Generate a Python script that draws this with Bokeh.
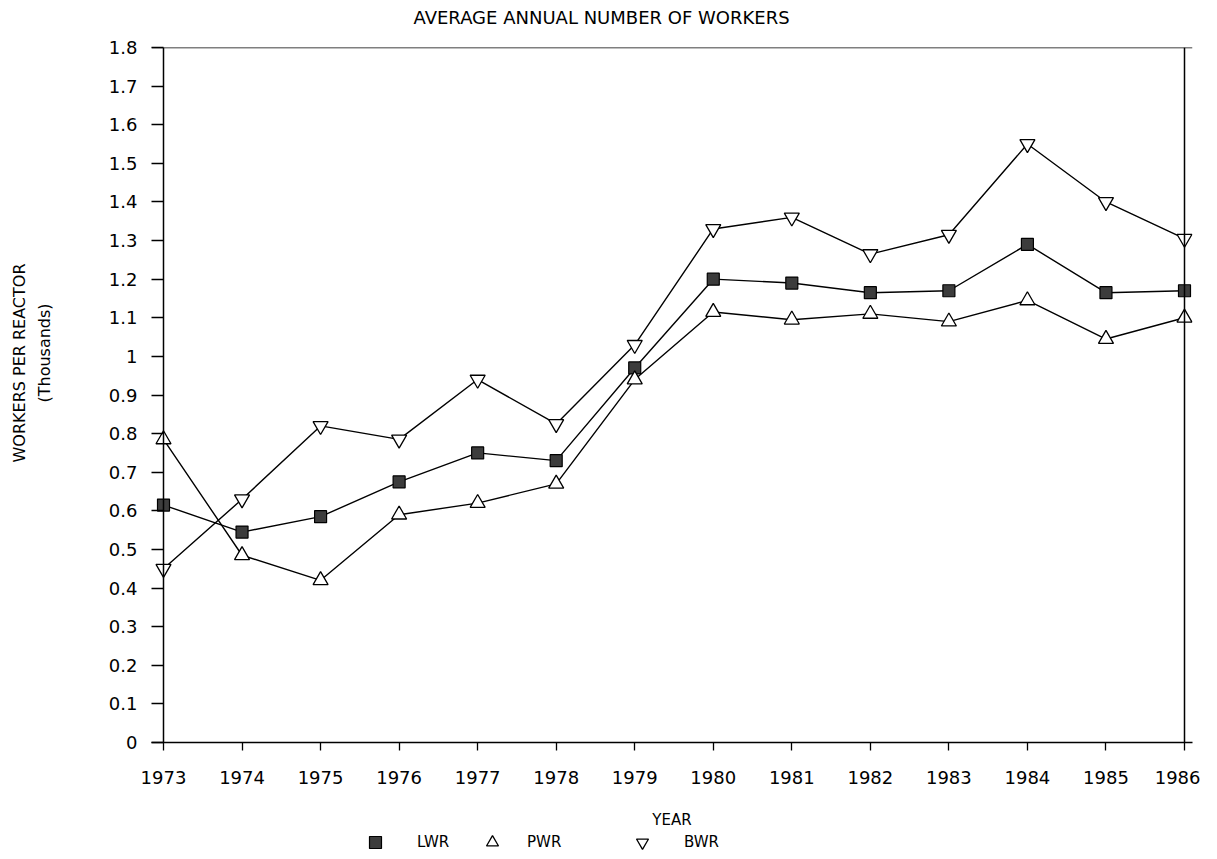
from bokeh.plotting import figure
from bokeh.layouts import column
from bokeh.models import Range1d, FixedTicker, CustomJSTickFormatter, Legend, LegendItem, Title, Span
from bokeh.embed import file_html
from bokeh.resources import INLINE

years = [1973, 1974, 1975, 1976, 1977, 1978, 1979, 1980, 1981, 1982, 1983, 1984, 1985, 1986]
lwr = [0.615, 0.545, 0.585, 0.675, 0.75, 0.73, 0.97, 1.20, 1.19, 1.165, 1.17, 1.29, 1.165, 1.17]
pwr = [0.785, 0.485, 0.42, 0.59, 0.62, 0.67, 0.94, 1.115, 1.095, 1.11, 1.09, 1.145, 1.045, 1.10]
bwr = [0.45, 0.63, 0.82, 0.785, 0.94, 0.825, 1.03, 1.33, 1.36, 1.265, 1.315, 1.55, 1.40, 1.305]
y_ticks = [i / 10 for i in range(0, 19)]
series_names = ["LWR", "PWR", "BWR"]

FONT = "DejaVu Sans"


def blank(fig):
    fig.grid.visible = False
    fig.outline_line_color = None
    fig.background_fill_color = "white"
    fig.border_fill_color = "white"


# title strip (its frame is aligned with the chart's frame by the column)
p0 = figure(width=1200, height=32, output_backend="svg", toolbar_location=None,
            x_range=Range1d(0, 1), y_range=Range1d(0, 1),
            x_axis_location=None, y_axis_location=None, min_border=0)
blank(p0)
p0.title = Title(text="AVERAGE ANNUAL NUMBER OF WORKERS", align="left", offset=262,
                 text_font=FONT, text_font_size="18px", text_font_style="normal",
                 text_color="black", standoff=9)

# small padding of the x range so the end markers are not clipped; the
# visible left/right frame lines are drawn at the first/last year
PAD_L = 12 / 78.54
PAD_R = 8 / 78.54

p = figure(width=1200, height=799, output_backend="svg", toolbar_location=None,
           x_range=Range1d(years[0] - PAD_L, years[-1] + PAD_R), y_range=Range1d(0, 1.8),
           min_border_left=151, min_border_right=8, min_border_top=15, min_border_bottom=88)
blank(p)

for loc, dim in ((years[0], "height"), (years[-1], "height"), (1.8, "width")):
    p.add_layout(Span(location=loc, dimension=dim, line_color="black", line_width=1.5))

p.xaxis.ticker = FixedTicker(ticks=years)
p.yaxis.ticker = FixedTicker(ticks=y_ticks)
p.yaxis.formatter = CustomJSTickFormatter(code="return String(Math.round(tick*10)/10);")
for ax in (p.xaxis, p.yaxis):
    ax.axis_line_color = "black"
    ax.axis_line_width = 1.5
    ax.major_tick_line_color = "black"
    ax.major_tick_line_width = 1.3
    ax.minor_tick_line_color = None
    ax.major_label_text_font = FONT
    ax.major_label_text_font_size = "18px"
    ax.major_label_text_color = "black"
    ax.axis_label_text_font = FONT
    ax.axis_label_text_font_size = "15px"
    ax.axis_label_text_font_style = "normal"
    ax.axis_label_text_color = "black"
p.yaxis.axis_line_color = None
p.yaxis.major_tick_out = 0
p.yaxis.major_tick_in = 12
p.yaxis.major_label_standoff = 14
p.xaxis.major_tick_out = 8
p.xaxis.major_tick_in = 0
p.xaxis.major_label_standoff = 20
p.xaxis.axis_label = "YEAR"
p.xaxis.axis_label_standoff = 24

# y axis title (two lines) as side titles so they can sit where the original has them;
# a blank spacer title keeps them away from the tick labels
spacer = Title(text=" ", text_font_size="1px", standoff=47)
t_units = Title(text="(Thousands)", align="left", offset=340, standoff=4,
                text_font=FONT, text_font_size="16px", text_font_style="normal", text_color="black")
t_name = Title(text="WORKERS PER REACTOR", align="left", offset=280, standoff=4,
               text_font=FONT, text_font_size="16px", text_font_style="normal", text_color="black")
p.add_layout(spacer, "left")
p.add_layout(t_units, "left")
p.add_layout(t_name, "left")

p.line(years, bwr, line_color="black", line_width=1.4)
p.line(years, lwr, line_color="black", line_width=1.4)
p.line(years, pwr, line_color="black", line_width=1.4)
sq_style = dict(marker="square", size=12, fill_color="#3c3c3c", line_color="black", line_width=1.2)
up_style = dict(marker="triangle", size=15, fill_color="white", line_color="black", line_width=1.3)
dn_style = dict(marker="inverted_triangle", size=15, fill_color="white", line_color="black", line_width=1.3)
p.scatter(years, bwr, **dn_style)
p.scatter(years, lwr, **sq_style)
p.scatter(years, pwr, **up_style)

# legend strip below the chart (its frame is aligned with the chart's frame)
p2 = figure(width=1200, height=22, output_backend="svg", toolbar_location=None,
            x_range=Range1d(0, 1), y_range=Range1d(0, 1),
            x_axis_location=None, y_axis_location=None, min_border=0)
blank(p2)
# legend proxies: one point each, placed outside the strip's visible range
proxies = [p2.scatter([-1], [-1], **st) for st in (sq_style, up_style, dn_style)]

for name, rend, x, standoff in zip(series_names, proxies, (209, 326, 476), (27, 20, 27)):
    lg = Legend(items=[LegendItem(label=name, renderers=[rend])],
                location=(x, -4), orientation="horizontal",
                glyph_width=30, glyph_height=30, label_standoff=standoff,
                label_text_font=FONT, label_text_font_size="15px", label_text_color="black",
                padding=0, margin=0, border_line_color=None, background_fill_alpha=0,
                label_height=16)
    p2.add_layout(lg, "center")

open("out.html", "w").write(file_html(column(p0, p, p2, spacing=0), INLINE))
